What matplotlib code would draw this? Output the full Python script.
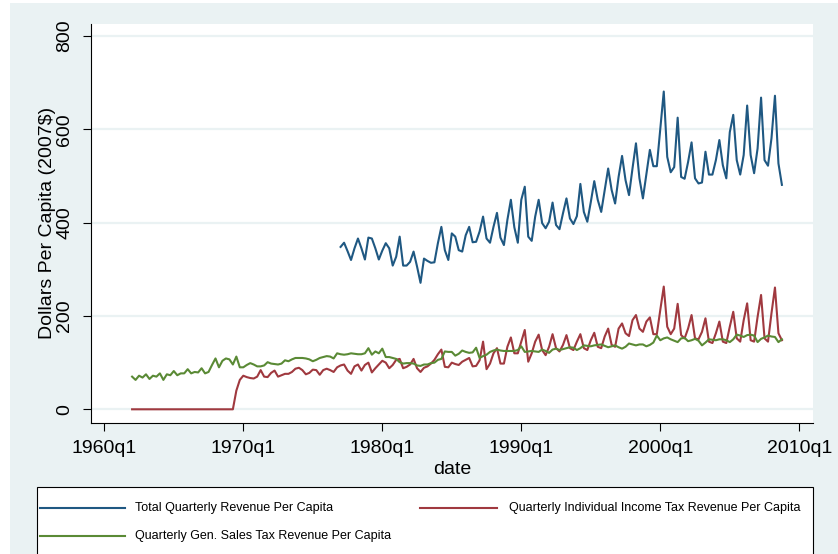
import numpy as np
import matplotlib
matplotlib.use('Agg')
import matplotlib.pyplot as plt
from matplotlib.lines import Line2D
from matplotlib.patches import Rectangle

plt.rcParams['font.family'] = ['Liberation Sans', 'DejaVu Sans']

# quarters counted Stata style: 0 = 1960q1
first_q_taxes = 8    # 1962q1
first_q_total = 68   # 1977q1

# Total Quarterly Revenue Per Capita, 1977q1 - 2008q4
total_rev = [
    348, 357, 339, 320,  # 1977
    345, 366, 345, 321,
    368, 366, 345, 321,
    340, 356, 345, 308,  # 1980
    327, 370, 308, 308,
    316, 338, 306, 271,
    323, 318, 314, 315,
    356, 391, 341, 320,
    377, 370, 341, 338,  # 1985
    373, 391, 358, 359,
    381, 413, 366, 357,
    391, 421, 368, 352,
    406, 449, 390, 357,
    449, 477, 370, 361,  # 1990
    413, 449, 399, 388,
    402, 443, 395, 386,
    420, 452, 409, 397,
    414, 483, 423, 402,
    444, 489, 449, 423,  # 1995
    470, 516, 470, 441,
    498, 543, 491, 459,
    516, 570, 495, 452,
    504, 556, 521, 521,
    600, 681, 541, 508,  # 2000
    519, 625, 498, 494,
    530, 572, 495, 484,
    486, 552, 503, 503,
    534, 577, 523, 495,
    594, 631, 534, 503,  # 2005
    545, 651, 545, 506,
    559, 668, 534, 522,
    581, 672, 527, 481,
]

# Quarterly Individual Income Tax Revenue Per Capita, 1962q1 - 2008q4
income_tax = [
    0, 0, 0, 0,  # 1962
    0, 0, 0, 0,
    0, 0, 0, 0,
    0, 0, 0, 0,  # 1965
    0, 0, 0, 0,
    0, 0, 0, 0,
    0, 0, 0, 0,
    0, 0, 40, 63,
    72, 69, 67, 66,  # 1970
    70, 84, 70, 69,
    78, 83, 70, 73,
    76, 76, 80, 87,
    89, 84, 75, 78,
    85, 84, 74, 84,  # 1975
    87, 84, 80, 90,
    94, 96, 83, 76,
    92, 96, 83, 95,
    100, 79, 88, 96,
    104, 100, 88, 95,  # 1980
    106, 108, 88, 91,
    96, 108, 88, 80,
    89, 92, 98, 106,
    118, 128, 91, 90,
    100, 97, 95, 102,  # 1985
    106, 110, 92, 93,
    105, 145, 86, 98,
    120, 131, 98, 98,
    134, 154, 120, 120,
    145, 170, 102, 120,  # 1990
    145, 160, 127, 116,
    134, 161, 131, 124,
    138, 159, 131, 127,
    145, 161, 131, 127,
    148, 164, 134, 131,  # 1995
    156, 173, 138, 134,
    173, 184, 163, 157,
    191, 202, 173, 166,
    188, 197, 161, 161,
    213, 263, 177, 161,  # 2000
    173, 226, 159, 152,
    173, 202, 152, 150,
    166, 195, 145, 142,
    163, 188, 145, 142,
    177, 209, 152, 145,  # 2005
    191, 227, 148, 145,
    198, 245, 152, 145,
    206, 261, 163, 148,
]

# Quarterly Gen. Sales Tax Revenue Per Capita, 1962q1 - 2008q4
sales_tax = [
    70, 63, 72, 68,  # 1962
    75, 65, 72, 70,
    77, 63, 75, 73,
    82, 73, 77, 77,  # 1965
    86, 77, 80, 79,
    88, 77, 80, 95,
    109, 90, 104, 109,
    107, 96, 113, 90,
    90, 95, 99, 96,  # 1970
    92, 92, 94, 101,
    98, 97, 96, 98,
    105, 103, 107, 110,
    110, 110, 109, 107,
    103, 106, 110, 112,  # 1975
    114, 113, 109, 120,
    118, 117, 118, 120,
    119, 118, 118, 120,
    131, 117, 124, 120,
    130, 112, 112, 110,  # 1980
    108, 101, 98, 99,
    99, 98, 94, 93,
    96, 96, 99, 100,
    106, 108, 124, 123,
    123, 115, 119, 126,  # 1985
    123, 121, 122, 132,
    110, 114, 117, 123,
    126, 128, 126, 125,
    125, 125, 125, 127,
    135, 123, 124, 125,  # 1990
    124, 123, 128, 125,
    121, 128, 130, 127,
    129, 131, 133, 132,
    127, 131, 137, 136,
    135, 137, 138, 139,  # 1995
    136, 133, 135, 137,
    133, 130, 134, 141,
    139, 137, 139, 139,
    135, 138, 143, 158,
    148, 152, 154, 150,  # 2000
    147, 144, 152, 153,
    146, 148, 151, 147,
    137, 143, 150, 149,
    148, 150, 150, 148,
    144, 150, 160, 158,  # 2005
    155, 159, 160, 158,
    144, 151, 154, 158,
    156, 155, 144, 150,
]

x_ticks = [0, 40, 80, 120, 160, 200]
x_tick_labels = ['1960q1', '1970q1', '1980q1', '1990q1', '2000q1', '2010q1']
y_ticks = [0, 200, 400, 600, 800]
series_labels = ['Total Quarterly Revenue Per Capita',
                 'Quarterly Individual Income Tax Revenue Per Capita',
                 'Quarterly Gen. Sales Tax Revenue Per Capita']
series_colors = ['#1F5882', '#A0393F', '#5A8A35']

q_total = np.arange(first_q_total, first_q_total + len(total_rev))
q_taxes = np.arange(first_q_taxes, first_q_taxes + len(income_tax))

W, H = 838, 554
fig = plt.figure(figsize=(W / 100, H / 100), dpi=100)
fig.patch.set_facecolor('white')
bg = '#EAF2F3'
fig.add_artist(Rectangle((10 / W, 0), 1 - 10 / W, 1 - 3 / H, transform=fig.transFigure,
                         facecolor=bg, edgecolor='none', zorder=-10))

ax = fig.add_axes([91.3 / W, 1 - 423.3 / H, (812.7 - 91.3) / W, (423.3 - 23.5) / H])
ax.set_facecolor('white')

lw = 1.5
ax.plot(q_total, total_rev, color=series_colors[0], lw=lw)
ax.plot(q_taxes, income_tax, color=series_colors[1], lw=lw)
ax.plot(q_taxes, sales_tax, color=series_colors[2], lw=lw)

ax.set_xlim(-3.74, 203.86)
ax.set_ylim(-30, 826.8)
ax.set_xticks(x_ticks)
ax.set_xticklabels(x_tick_labels)
ax.set_yticks(y_ticks)
ax.set_yticklabels([str(v) for v in y_ticks], rotation=90, va='center')

ax.yaxis.grid(True, color=bg, lw=1.6)
ax.set_axisbelow(True)
for s in ['top', 'right']:
    ax.spines[s].set_visible(False)
for s in ['left', 'bottom']:
    ax.spines[s].set_color('black')
    ax.spines[s].set_linewidth(0.8)

ax.tick_params(axis='both', direction='out', length=6, width=0.8, labelsize=14, colors='black')
ax.tick_params(axis='y', pad=7)
ax.tick_params(axis='x', pad=6)

ax.set_xlabel('date', fontsize=14, labelpad=3)
ax.set_ylabel('Dollars Per Capita (2007$)', fontsize=14, labelpad=0)

# legend box drawn by hand to match the Stata layout
fig.add_artist(Rectangle((37 / W, -0.05), (813 - 37) / W, 0.05 + 1 - 487 / H,
                         transform=fig.transFigure, facecolor='white',
                         edgecolor='black', lw=0.8, zorder=1))
entries = [(0, 40, 125, 135, 508), (1, 420, 497, 509, 508), (2, 40, 125, 135, 536)]
for idx, x0, x1, xt, yp in entries:
    yf = 1 - yp / H
    fig.add_artist(Line2D([x0 / W, x1 / W], [yf, yf], transform=fig.transFigure,
                          color=series_colors[idx], lw=lw, zorder=2))
    fig.text(xt / W, yf, series_labels[idx], fontsize=9, va='center', ha='left', zorder=2)

fig.savefig('out.png', dpi=100)
